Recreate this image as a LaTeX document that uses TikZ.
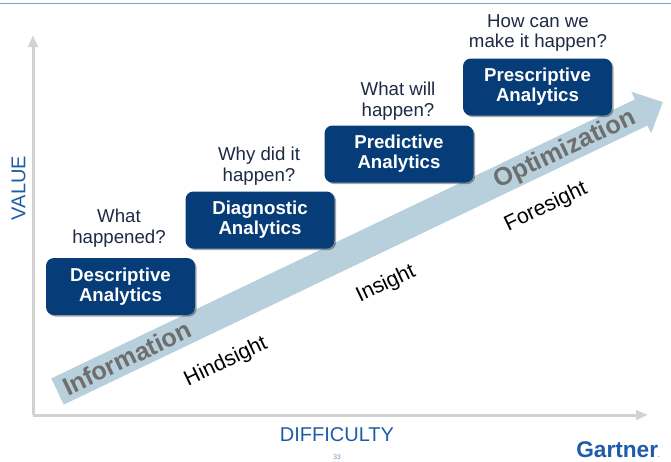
\documentclass[tikz,border=0pt]{standalone}
\usepackage{fontspec}
\setmainfont{Liberation Sans}
\usetikzlibrary{arrows.meta,shadows}
\definecolor{boxblue}{HTML}{063D78}
\definecolor{bandblue}{HTML}{B8CFDC}
\definecolor{bandtext}{HTML}{6E6E6E}
\definecolor{axisgray}{HTML}{D2D2D2}
\definecolor{labelblue}{HTML}{1F5CA8}
\definecolor{qtext}{HTML}{1E2A44}
\definecolor{topline}{HTML}{809FD6}
\begin{document}
\begin{tikzpicture}[x=0.75pt,y=-0.75pt,
  stagebox/.style={fill=boxblue, rounded corners=6pt, text=white, align=center,
    minimum width=111.75pt, minimum height=42.75pt, inner sep=0pt,
    font=\fontsize{14}{15}\selectfont\bfseries,
    drop shadow={shadow xshift=1.2pt, shadow yshift=-1.2pt, fill=black, opacity=0.35}},
  question/.style={text=qtext, align=center, inner sep=0pt,
    font=\fontsize{14}{15.5}\selectfont},
  bandlabel/.style={text=bandtext, rotate=25.5, inner sep=0pt,
    font=\fontsize{19}{20}\selectfont\bfseries},
  sightlabel/.style={text=black, rotate=25.5, inner sep=0pt,
    font=\fontsize{16}{18}\selectfont},
  axisline/.style={draw=axisgray, line width=2.25pt,
    -{Triangle[length=9pt,width=7pt]}},
  axislabel/.style={text=labelblue, inner sep=0pt, font=\fontsize{15}{16}\selectfont}
]
\useasboundingbox (0,0) rectangle (671,461);

% top rule
\coordinate (tl) at (0,3.5);
\coordinate (tr) at (671,3.5);
\draw[topline, line width=0.9pt] (tl) -- (tr);

% axes
\coordinate (origin) at (33,415);
\coordinate (ytip) at (33,35);
\coordinate (xtip) at (648,415);
\draw[axisline] (origin) -- (ytip);
\draw[axisline] (origin) -- (xtip);

% band arrow
\begin{scope}[shift={(57.5,391.5)},rotate=25.55]
  \fill[bandblue] (0,-14.5) -- (647,-14.5) -- (647,-23) -- (671,0)
     -- (647,23) -- (647,14.5) -- (0,14.5) -- cycle;
\end{scope}
\node[bandlabel] (info) at (127,358) {Information};
\node[bandlabel] (optim) at (565,150) {Optimization};

% sight labels
\node[sightlabel] (hind) at (226,362) {Hindsight};
\node[sightlabel] (ins) at (386,284) {Insight};
\node[sightlabel] (fore) at (546,207) {Foresight};

% stage boxes
\node[stagebox] (desc) at (120.5,286.5) {Descriptive\\Analytics};
\node[stagebox] (diag) at (260,220) {Diagnostic\\Analytics};
\node[stagebox] (pred) at (399,154) {Predictive\\Analytics};
\node[stagebox] (pres) at (537.5,87) {Prescriptive\\Analytics};

% questions
\node[question] (q1) at (119,228.5) {What\\happened?};
\node[question] (q2) at (259,166) {Why did it\\happen?};
\node[question] (q3) at (398,101) {What will\\happen?};
\node[question] (q4) at (538,33) {How can we\\make it happen?};

% axis labels
\node[axislabel, rotate=90] (value) at (18.5,188) {VALUE};
\node[axislabel] (diff) at (337,435) {DIFFICULTY};
\node[text=labelblue!70, inner sep=0pt, font=\fontsize{5}{6}\selectfont] (page) at (337,457) {33};
\node[text=labelblue, inner sep=0pt, anchor=base west,
  font=\fontsize{17}{18}\selectfont\bfseries] (gartner) at (576,457) {Gartner\raisebox{0pt}{\fontsize{4}{4}\selectfont .}};
\end{tikzpicture}
\end{document}
